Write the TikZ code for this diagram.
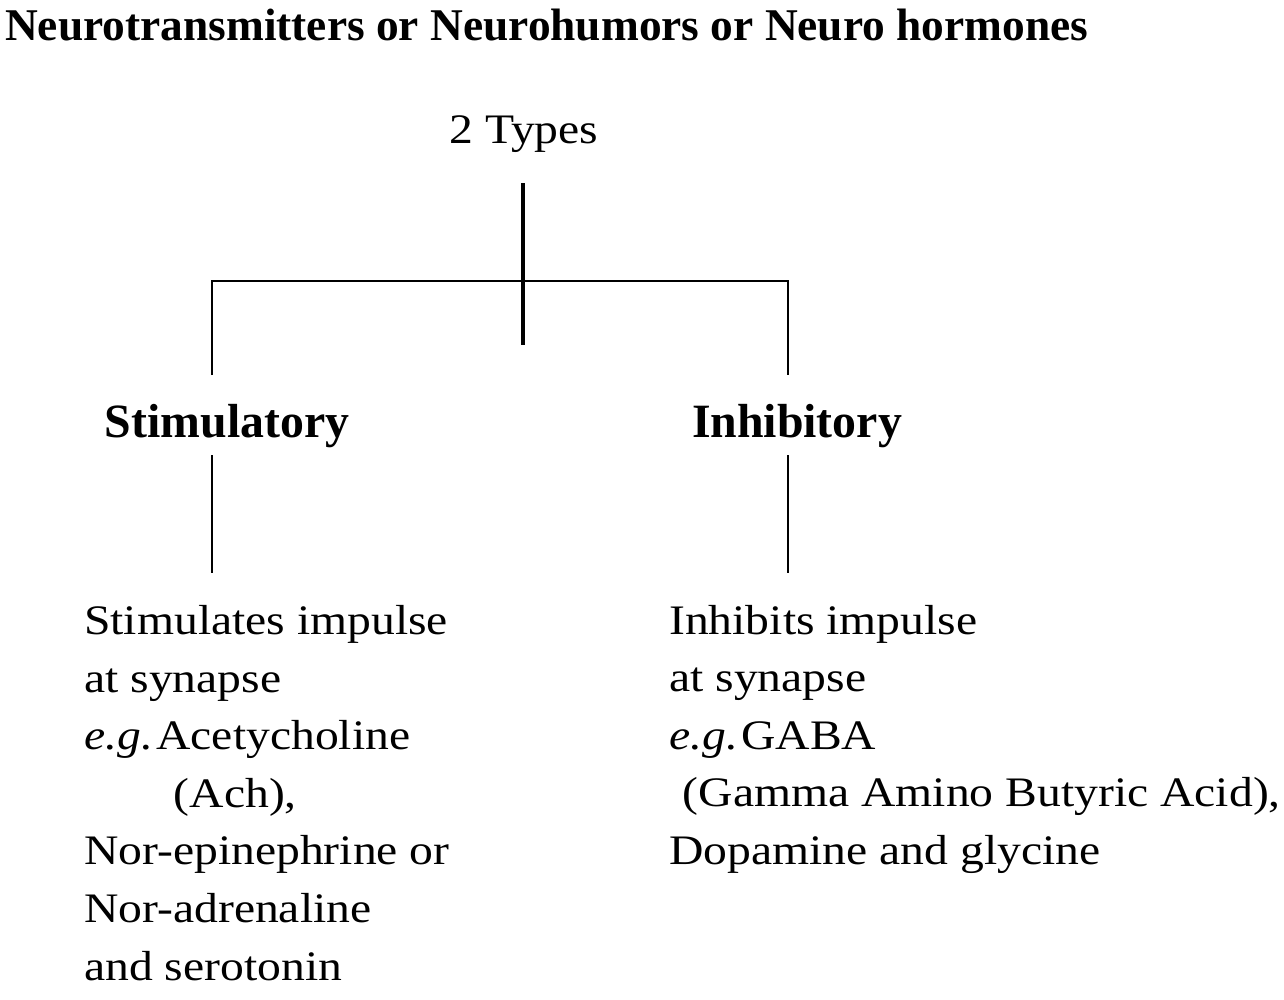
\documentclass[tikz,border=0pt]{standalone}
\usepackage{fontspec}
\setmainfont{Liberation Serif}
\newcommand{\egtag}{\textit{e.g.}\kern3pt}
\begin{document}
\begin{tikzpicture}[x=1pt,y=1pt,
  titlefont/.style={font=\fontsize{45.4}{50}\selectfont\bfseries},
  headfont/.style={font=\fontsize{47.8}{52}\selectfont\bfseries},
  bodytext/.style={font=\fontsize{42}{57.6}\selectfont, align=left, inner sep=0pt,
    anchor=base west, xscale=1.134, transform shape},
  thinline/.style={line width=1.6pt},
  thickline/.style={line width=3.4pt}]
\useasboundingbox (0,0) rectangle (1284,-999);
\node[titlefont, anchor=base west, inner sep=0pt] (title) at (5,-40)
  {Neurotransmitters or Neurohumors or Neuro hormones};
\node[font=\fontsize{42}{48}\selectfont, anchor=base, inner sep=0pt, xscale=1.134, transform shape] (types) at (524,-143) {2 Types};
\node[headfont, anchor=base, inner sep=0pt] (stim) at (227,-437) {Stimulatory};
\node[headfont, anchor=base, inner sep=0pt] (inhib) at (797,-437) {Inhibitory};
% base anchor of a multi-line node is the baseline of its last line
\node[bodytext] (stimtext) at (84,-980)
  {Stimulates impulse\\ at synapse\\ \egtag Acetycholine\\ \hspace*{79pt}(Ach),\\ Nor-epinephrine or\\ Nor-adrenaline\\ and serotonin};
\node[bodytext] (inhibtext) at (669,-864.4)
  {Inhibits impulse\\ at synapse\\ \egtag GABA\\ \hspace*{12pt}(Gamma Amino Butyric Acid),\\ Dopamine and glycine};
\coordinate (ttop) at (523,-183);
\coordinate (tbot) at (523,-345);
\coordinate (barl) at (212,-281);
\coordinate (barr) at (788,-281);
\coordinate (sl) at (212,-375);
\coordinate (il) at (788,-375);
\coordinate (sl2) at (212,-455);
\coordinate (sl3) at (212,-573);
\coordinate (il2) at (788,-455);
\coordinate (il3) at (788,-573);
\draw[thickline] (ttop) -- (tbot);
\draw[thinline] (sl) -- (barl) -- (barr) -- (il);
\draw[thinline] (sl2) -- (sl3);
\draw[thinline] (il2) -- (il3);
\end{tikzpicture}
\end{document}
